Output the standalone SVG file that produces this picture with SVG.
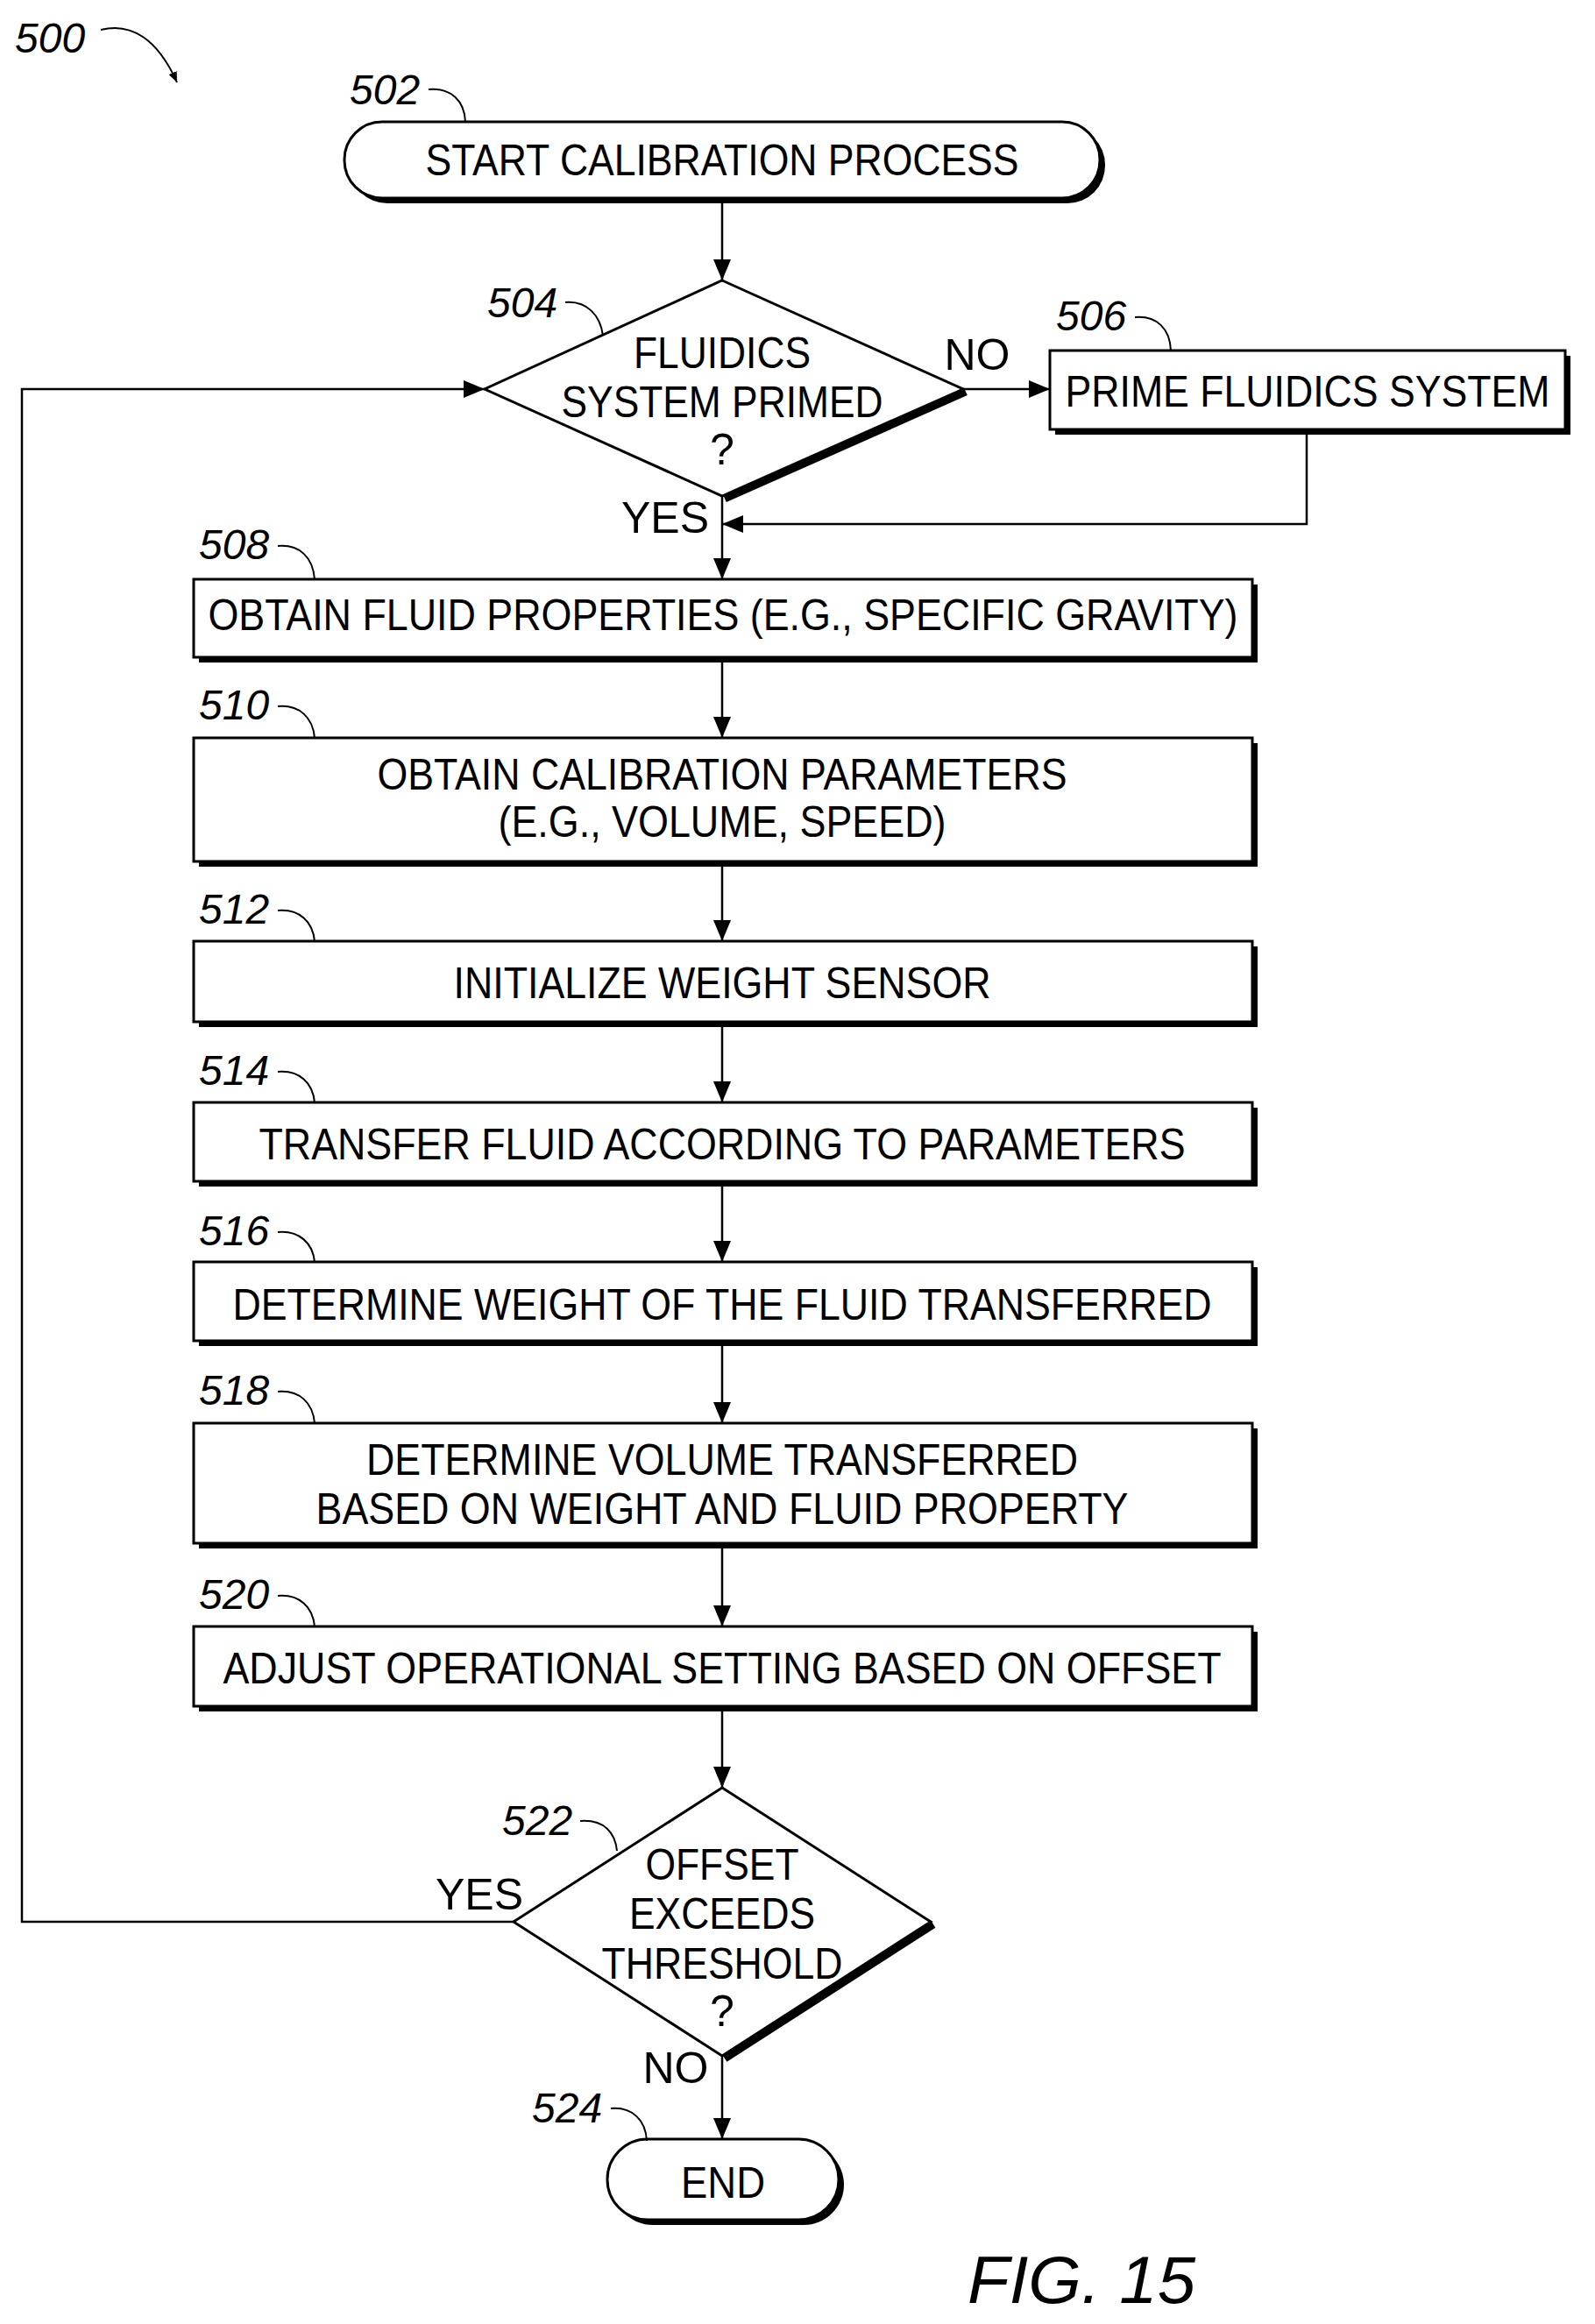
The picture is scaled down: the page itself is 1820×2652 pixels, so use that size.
<svg xmlns="http://www.w3.org/2000/svg" width="1820" height="2652" viewBox="0 0 1820 2652">
<style>
.t{font-family:"Liberation Sans",Arial,sans-serif;font-size:50px;fill:#000;text-anchor:middle}
.r{font-family:"Liberation Sans",Arial,sans-serif;font-size:48px;font-style:italic;fill:#000}
.b{fill:#fff;stroke:#000;stroke-width:3}
.s{fill:#000}
.c{fill:none;stroke:#000;stroke-width:2.5}
.l{fill:none;stroke:#000;stroke-width:2}
</style>
<defs><marker id="a" markerWidth="12" markerHeight="10" refX="12" refY="5" orient="auto" markerUnits="userSpaceOnUse"><path d="M0,0L12,5L0,10z"/></marker>
<marker id="a2" markerWidth="24" markerHeight="20" refX="24" refY="10" orient="auto" markerUnits="userSpaceOnUse"><path d="M0,0L24,10L0,20z"/></marker></defs>
<g id="connectors">
<path class="c" d="M824 226V320" marker-end="url(#a2)"/>
<path class="c" d="M1099 444H1198" marker-end="url(#a2)"/>
<path class="c" d="M1491 490V598H824" marker-end="url(#a2)"/>
<path class="c" d="M824 566V661" marker-end="url(#a2)"/>
<path class="c" d="M824 750V842" marker-end="url(#a2)"/>
<path class="c" d="M824 983V1074" marker-end="url(#a2)"/>
<path class="c" d="M824 1166V1258" marker-end="url(#a2)"/>
<path class="c" d="M824 1348V1440" marker-end="url(#a2)"/>
<path class="c" d="M824 1530V1624" marker-end="url(#a2)"/>
<path class="c" d="M824 1761V1856" marker-end="url(#a2)"/>
<path class="c" d="M824 1947V2040" marker-end="url(#a2)"/>
<path class="c" d="M586 2193H25V444H553" marker-end="url(#a2)"/>
<path class="c" d="M824 2346V2441" marker-end="url(#a2)"/>
<text class="t" x="1115" y="422">NO</text>
<text class="t" x="759" y="608">YES</text>
<text class="t" x="547" y="2179">YES</text>
<text class="t" x="771" y="2377">NO</text>
</g>
<g id="n500"><text class="r" x="17" y="60">500</text><path class="l" d="M115 34C150 25 180 45 202 94" marker-end="url(#a)"/></g>
<g id="n502">
<rect x="399" y="145" width="862" height="87" rx="43" class="s"/>
<rect x="393" y="139" width="862" height="87" rx="43" class="b"/>
<text class="t" x="824" y="200" textLength="677" lengthAdjust="spacingAndGlyphs">START CALIBRATION PROCESS</text>
<text class="r" x="399" y="119">502</text><path class="l" d="M489 102C515 100 530 115 531 139"/>
</g>
<g id="n504">
<path d="M824 320L1099 444L824 566L553 444z" class="b"/>
<path d="M1099 444L824 566" stroke="#000" stroke-width="9" transform="translate(3,3)"/>
<text class="t" x="824" y="420" textLength="202" lengthAdjust="spacingAndGlyphs">FLUIDICS</text>
<text class="t" x="824" y="476" textLength="367" lengthAdjust="spacingAndGlyphs">SYSTEM PRIMED</text>
<text class="t" x="824" y="530">?</text>
<text class="r" x="556" y="362">504</text><path class="l" d="M645 345C670 343 685 360 688 383"/>
</g>
<g id="n506">
<rect x="1204" y="406" width="588" height="90" class="s"/>
<rect x="1198" y="400" width="588" height="90" class="b"/>
<text class="t" x="1492" y="464" textLength="553" lengthAdjust="spacingAndGlyphs">PRIME FLUIDICS SYSTEM</text>
<text class="r" x="1205" y="377">506</text><path class="l" d="M1295 362C1320 360 1335 375 1336 400"/>
</g>
<g id="n508">
<rect x="227" y="667" width="1208" height="89" class="s"/><rect x="221" y="661" width="1208" height="89" class="b"/>
<text class="t" x="825" y="719" textLength="1175" lengthAdjust="spacingAndGlyphs">OBTAIN FLUID PROPERTIES (E.G., SPECIFIC GRAVITY)</text>
<text class="r" x="227" y="638">508</text><path class="l" d="M317 623C342 621 357 636 359 661"/>
</g>
<g id="n510">
<rect x="227" y="848" width="1208" height="141" class="s"/><rect x="221" y="842" width="1208" height="141" class="b"/>
<text class="t" x="824" y="901" textLength="787" lengthAdjust="spacingAndGlyphs">OBTAIN CALIBRATION PARAMETERS</text>
<text class="t" x="824" y="955" textLength="511" lengthAdjust="spacingAndGlyphs">(E.G., VOLUME, SPEED)</text>
<text class="r" x="227" y="821">510</text><path class="l" d="M317 806C342 804 357 819 359 842"/>
</g>
<g id="n512">
<rect x="227" y="1080" width="1208" height="92" class="s"/><rect x="221" y="1074" width="1208" height="92" class="b"/>
<text class="t" x="824" y="1139" textLength="613" lengthAdjust="spacingAndGlyphs">INITIALIZE WEIGHT SENSOR</text>
<text class="r" x="227" y="1054">512</text><path class="l" d="M317 1039C342 1037 357 1052 359 1074"/>
</g>
<g id="n514">
<rect x="227" y="1264" width="1208" height="90" class="s"/><rect x="221" y="1258" width="1208" height="90" class="b"/>
<text class="t" x="824" y="1323" textLength="1057" lengthAdjust="spacingAndGlyphs">TRANSFER FLUID ACCORDING TO PARAMETERS</text>
<text class="r" x="227" y="1238">514</text><path class="l" d="M317 1223C342 1221 357 1236 359 1258"/>
</g>
<g id="n516">
<rect x="227" y="1446" width="1208" height="90" class="s"/><rect x="221" y="1440" width="1208" height="90" class="b"/>
<text class="t" x="824" y="1506" textLength="1117" lengthAdjust="spacingAndGlyphs">DETERMINE WEIGHT OF THE FLUID TRANSFERRED</text>
<text class="r" x="227" y="1421">516</text><path class="l" d="M317 1406C342 1404 357 1419 359 1440"/>
</g>
<g id="n518">
<rect x="227" y="1630" width="1208" height="137" class="s"/><rect x="221" y="1624" width="1208" height="137" class="b"/>
<text class="t" x="824" y="1683" textLength="812" lengthAdjust="spacingAndGlyphs">DETERMINE VOLUME TRANSFERRED</text>
<text class="t" x="824" y="1739" textLength="927" lengthAdjust="spacingAndGlyphs">BASED ON WEIGHT AND FLUID PROPERTY</text>
<text class="r" x="227" y="1603">518</text><path class="l" d="M317 1588C342 1586 357 1601 359 1624"/>
</g>
<g id="n520">
<rect x="227" y="1862" width="1208" height="91" class="s"/><rect x="221" y="1856" width="1208" height="91" class="b"/>
<text class="t" x="824" y="1921" textLength="1139" lengthAdjust="spacingAndGlyphs">ADJUST OPERATIONAL SETTING BASED ON OFFSET</text>
<text class="r" x="227" y="1836">520</text><path class="l" d="M317 1821C342 1819 357 1834 359 1856"/>
</g>
<g id="n522">
<path d="M824 2040L1062 2193L824 2346L586 2193z" class="b"/>
<path d="M1062 2193L824 2346" stroke="#000" stroke-width="9" transform="translate(3,3)"/>
<text class="t" x="824" y="2145" textLength="175" lengthAdjust="spacingAndGlyphs">OFFSET</text>
<text class="t" x="824" y="2201" textLength="212" lengthAdjust="spacingAndGlyphs">EXCEEDS</text>
<text class="t" x="824" y="2258" textLength="275" lengthAdjust="spacingAndGlyphs">THRESHOLD</text>
<text class="t" x="824" y="2312">?</text>
<text class="r" x="573" y="2094">522</text><path class="l" d="M662 2078C690 2076 702 2092 704 2112"/>
</g>
<g id="n524">
<rect x="699" y="2447" width="264" height="92" rx="46" class="s"/>
<rect x="693" y="2441" width="264" height="92" rx="46" class="b"/>
<text class="t" x="825" y="2508" textLength="96" lengthAdjust="spacingAndGlyphs">END</text>
<text class="r" x="607" y="2422">524</text><path class="l" d="M697 2406C722 2404 737 2420 738 2443"/>
</g>
<text x="1104" y="2628" style="font-family:'Liberation Sans',Arial,sans-serif;font-size:76px;font-style:italic" textLength="260" lengthAdjust="spacingAndGlyphs">FIG.  15</text>
</svg>
